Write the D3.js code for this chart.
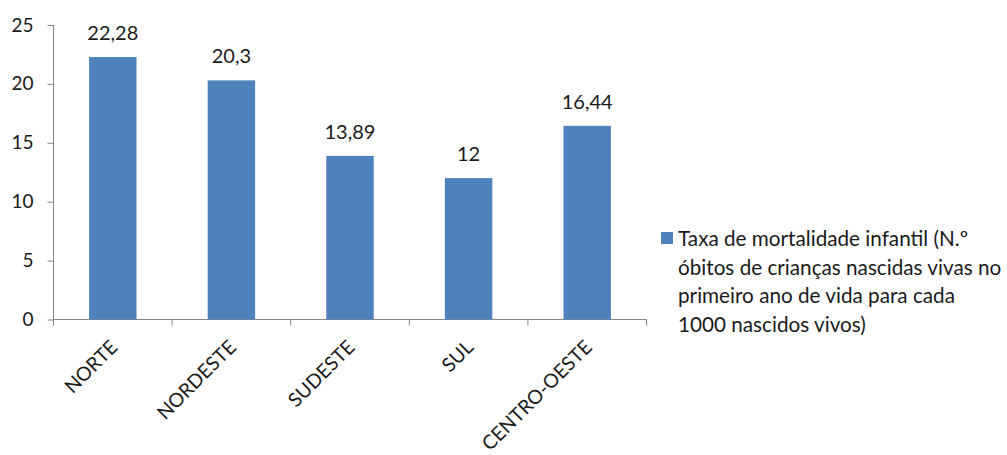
<!DOCTYPE html>
<html>
<head>
<meta charset="utf-8">
<script src="https://cdn.jsdelivr.net/npm/d3@7"></script>
<style>
  html, body { margin: 0; padding: 0; background: #fff; }
  svg { display: block; font-family: Lato, "Open Sans", sans-serif; }
</style>
</head>
<body>
<svg id="chart" width="1007" height="455"></svg>
<script>
// Infant mortality rate by region of Brazil
const regions = ["NORTE", "NORDESTE", "SUDESTE", "SUL", "CENTRO-OESTE"];
const rates = [22.28, 20.3, 13.89, 12, 16.44];
const yTicks = [0, 5, 10, 15, 20, 25];
const legendLines = [
  "Taxa de mortalidade infantil (N.º",
  "óbitos de crianças nascidas vivas no",
  "primeiro ano de vida para cada",
  "1000 nascidos vivos)"
];

const svg = d3.select("#chart");
const plot = { left: 53.5, right: 646.5, top: 25, bottom: 319.5 };
const axisColor = "#868686";
const barColor = "#4F81BD";
const textColor = "#1a1a1a";

const x = d3.scaleBand().domain(regions).range([plot.left, plot.right]).paddingInner(0.6).paddingOuter(0.3);
const y = d3.scaleLinear().domain([0, 25]).range([plot.bottom, plot.top]);

// y axis
const yAxis = svg.append("g")
  .attr("transform", `translate(${plot.left},0)`)
  .call(d3.axisLeft(y).tickValues(yTicks).tickSize(6).tickPadding(14).tickFormat(d3.format("d")));
yAxis.select(".domain").attr("stroke", axisColor).attr("d", `M0,${plot.bottom + 6}V${plot.top}`);
yAxis.selectAll(".tick line").attr("stroke", axisColor);
yAxis.selectAll(".tick text").attr("fill", textColor).style("font-size", "19px").style("font-family", "Lato, sans-serif");

// x axis baseline with boundary ticks between categories
const xg = svg.append("g");
xg.append("line")
  .attr("x1", plot.left).attr("x2", plot.right).attr("y1", plot.bottom).attr("y2", plot.bottom)
  .attr("stroke", axisColor);
const step = (plot.right - plot.left) / regions.length;
xg.selectAll("line.bt")
  .data(d3.range(regions.length + 1))
  .join("line")
  .attr("class", "bt")
  .attr("x1", i => plot.left + i * step).attr("x2", i => plot.left + i * step)
  .attr("y1", plot.bottom).attr("y2", plot.bottom + 6)
  .attr("stroke", axisColor);

// category labels, rotated
xg.selectAll("text.cat")
  .data(regions)
  .join("text")
  .attr("class", "cat")
  .attr("text-anchor", "end")
  .attr("fill", textColor)
  .style("font-size", "19.5px")
  .attr("transform", d => `translate(${x(d) + x.bandwidth() / 2 + 6},${plot.bottom + 29}) rotate(-45)`)
  .text(d => d);

// bars
const data = regions.map((r, i) => ({ region: r, value: rates[i] }));
svg.selectAll("rect.bar")
  .data(data)
  .join("rect")
  .attr("class", "bar")
  .attr("x", d => x(d.region))
  .attr("width", x.bandwidth())
  .attr("y", d => y(d.value))
  .attr("height", d => y(0) - y(d.value))
  .attr("fill", barColor);

// value labels
svg.selectAll("text.val")
  .data(data)
  .join("text")
  .attr("class", "val")
  .attr("text-anchor", "middle")
  .attr("fill", textColor)
  .style("font-size", "20px")
  .attr("x", d => x(d.region) + x.bandwidth() / 2)
  .attr("y", d => y(d.value) - 17)
  .text(d => String(d.value).replace(".", ","));

// legend
const lg = svg.append("g").attr("transform", "translate(661,232)");
lg.append("rect").attr("width", 12).attr("height", 12).attr("fill", barColor);
lg.selectAll("text")
  .data(legendLines)
  .join("text")
  .attr("x", 17)
  .attr("y", (d, i) => 14 + i * 28.5)
  .attr("fill", textColor)
  .style("font-size", "20.7px")
  .text(d => d);
</script>
</body>
</html>
